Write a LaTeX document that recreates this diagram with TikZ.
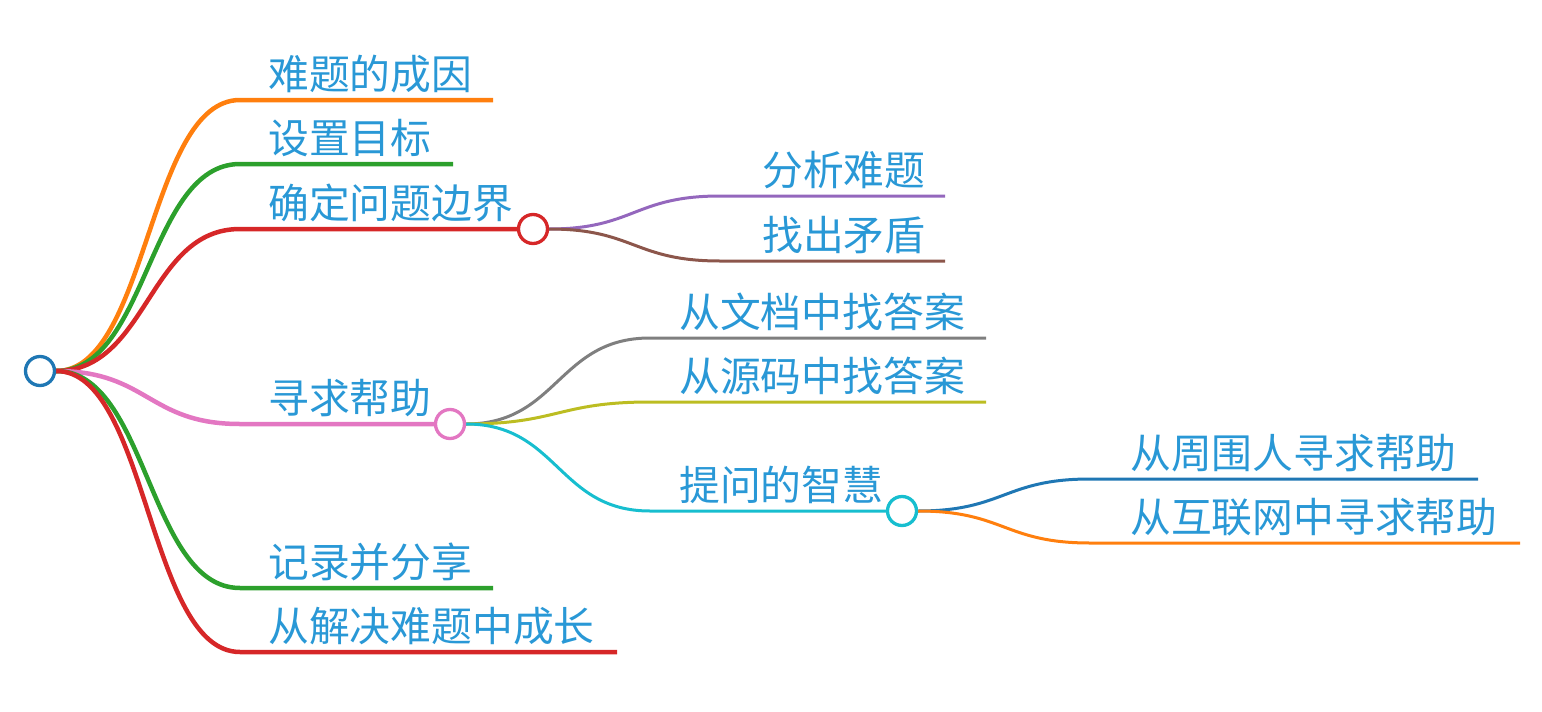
\documentclass[tikz,border=0pt]{standalone}
\usepackage{fontspec}
\newfontfamily\cjk{Noto Sans CJK SC}
\usetikzlibrary{backgrounds}
\definecolor{cblue}{HTML}{1F77B4}
\definecolor{corange}{HTML}{FF7F0E}
\definecolor{cgreen}{HTML}{2CA02C}
\definecolor{cred}{HTML}{D62728}
\definecolor{cpurple}{HTML}{9467BD}
\definecolor{cbrown}{HTML}{8C564B}
\definecolor{cpink}{HTML}{E377C2}
\definecolor{cgray}{HTML}{7F7F7F}
\definecolor{colive}{HTML}{BCBD22}
\definecolor{ccyan}{HTML}{17BECF}
\definecolor{txt}{RGB}{41,152,214}
\begin{document}
\begin{tikzpicture}[x=1pt,y=-1pt,
  lbl/.style={anchor=base west, inner sep=0pt, text=txt, font=\cjk\fontsize{40.8}{41}\selectfont},
  dot/.style={circle, draw=#1, fill=white, line width=3.3pt, minimum size=29pt, inner sep=0pt},
  br/.style={draw=#1, line width=4.5pt},
  sb/.style={draw=#1, line width=3pt}]
\useasboundingbox (0,0) rectangle (1542,712);

% circle nodes
\node[dot=cblue] (root) at (40,371) {};
\node[dot=cred] (n3) at (533,229) {};
\node[dot=cpink] (n4) at (450,424) {};
\node[dot=ccyan] (n9) at (902,511) {};

% bend and end coordinates
\coordinate (b1) at (240,100); \coordinate (e1) at (493,100);
\coordinate (b2) at (240,164); \coordinate (e2) at (453,164);
\coordinate (b3) at (240,229);
\coordinate (b4) at (240,424);
\coordinate (b5) at (240,588); \coordinate (e5) at (493,588);
\coordinate (b6) at (240,652); \coordinate (e6) at (617,652);
\coordinate (b31) at (720,196); \coordinate (e31) at (945,196);
\coordinate (b32) at (720,261); \coordinate (e32) at (945,261);
\coordinate (b41) at (650,338); \coordinate (e41) at (986,338);
\coordinate (b42) at (650,402); \coordinate (e42) at (986,402);
\coordinate (b43) at (650,511);
\coordinate (b91) at (1090,479); \coordinate (e91) at (1478,479);
\coordinate (b92) at (1090,543); \coordinate (e92) at (1520,543);

% labels
\node[lbl] (t1) at (268,89) {难题的成因};
\node[lbl] (t2) at (268,153) {设置目标};
\node[lbl] (t3) at (268,218) {确定问题边界};
\node[lbl] (t4) at (268,413) {寻求帮助};
\node[lbl] (t5) at (268,577) {记录并分享};
\node[lbl] (t6) at (268,641) {从解决难题中成长};
\node[lbl] (t31) at (762,185) {分析难题};
\node[lbl] (t32) at (762,250) {找出矛盾};
\node[lbl] (t41) at (679,327) {从文档中找答案};
\node[lbl] (t42) at (679,391) {从源码中找答案};
\node[lbl] (t43) at (679,500) {提问的智慧};
\node[lbl] (t91) at (1130,468) {从周围人寻求帮助};
\node[lbl] (t92) at (1130,532) {从互联网中寻求帮助};

\begin{pgfonlayer}{background}
% root branches
\draw[br=corange] (root.east) .. controls (148,371) and (148,100) .. (b1) -- (e1);
\draw[br=cgreen] (root.east) .. controls (148,371) and (148,164) .. (b2) -- (e2);
\draw[br=cred] (root.east) .. controls (148,371) and (148,229) .. (b3) -- (n3.west);
\draw[br=cpink] (root.east) .. controls (148,371) and (148,424) .. (b4) -- (n4.west);
\draw[br=cgreen] (root.east) .. controls (148,371) and (148,588) .. (b5) -- (e5);
\draw[br=cred] (root.east) .. controls (148,371) and (148,652) .. (b6) -- (e6);
% second level
\draw[sb=cpurple] (n3.east) .. controls (634,229) and (634,196) .. (b31) -- (e31);
\draw[sb=cbrown] (n3.east) .. controls (634,229) and (634,261) .. (b32) -- (e32);
\draw[sb=cgray] (n4.east) .. controls (558,424) and (558,338) .. (b41) -- (e41);
\draw[sb=colive] (n4.east) .. controls (558,424) and (558,402) .. (b42) -- (e42);
\draw[sb=ccyan] (n4.east) .. controls (558,424) and (558,511) .. (b43) -- (n9.west);
% third level
\draw[sb=cblue] (n9.east) .. controls (1004,511) and (1004,479) .. (b91) -- (e91);
\draw[sb=corange] (n9.east) .. controls (1004,511) and (1004,543) .. (b92) -- (e92);
\end{pgfonlayer}
\end{tikzpicture}
\end{document}
